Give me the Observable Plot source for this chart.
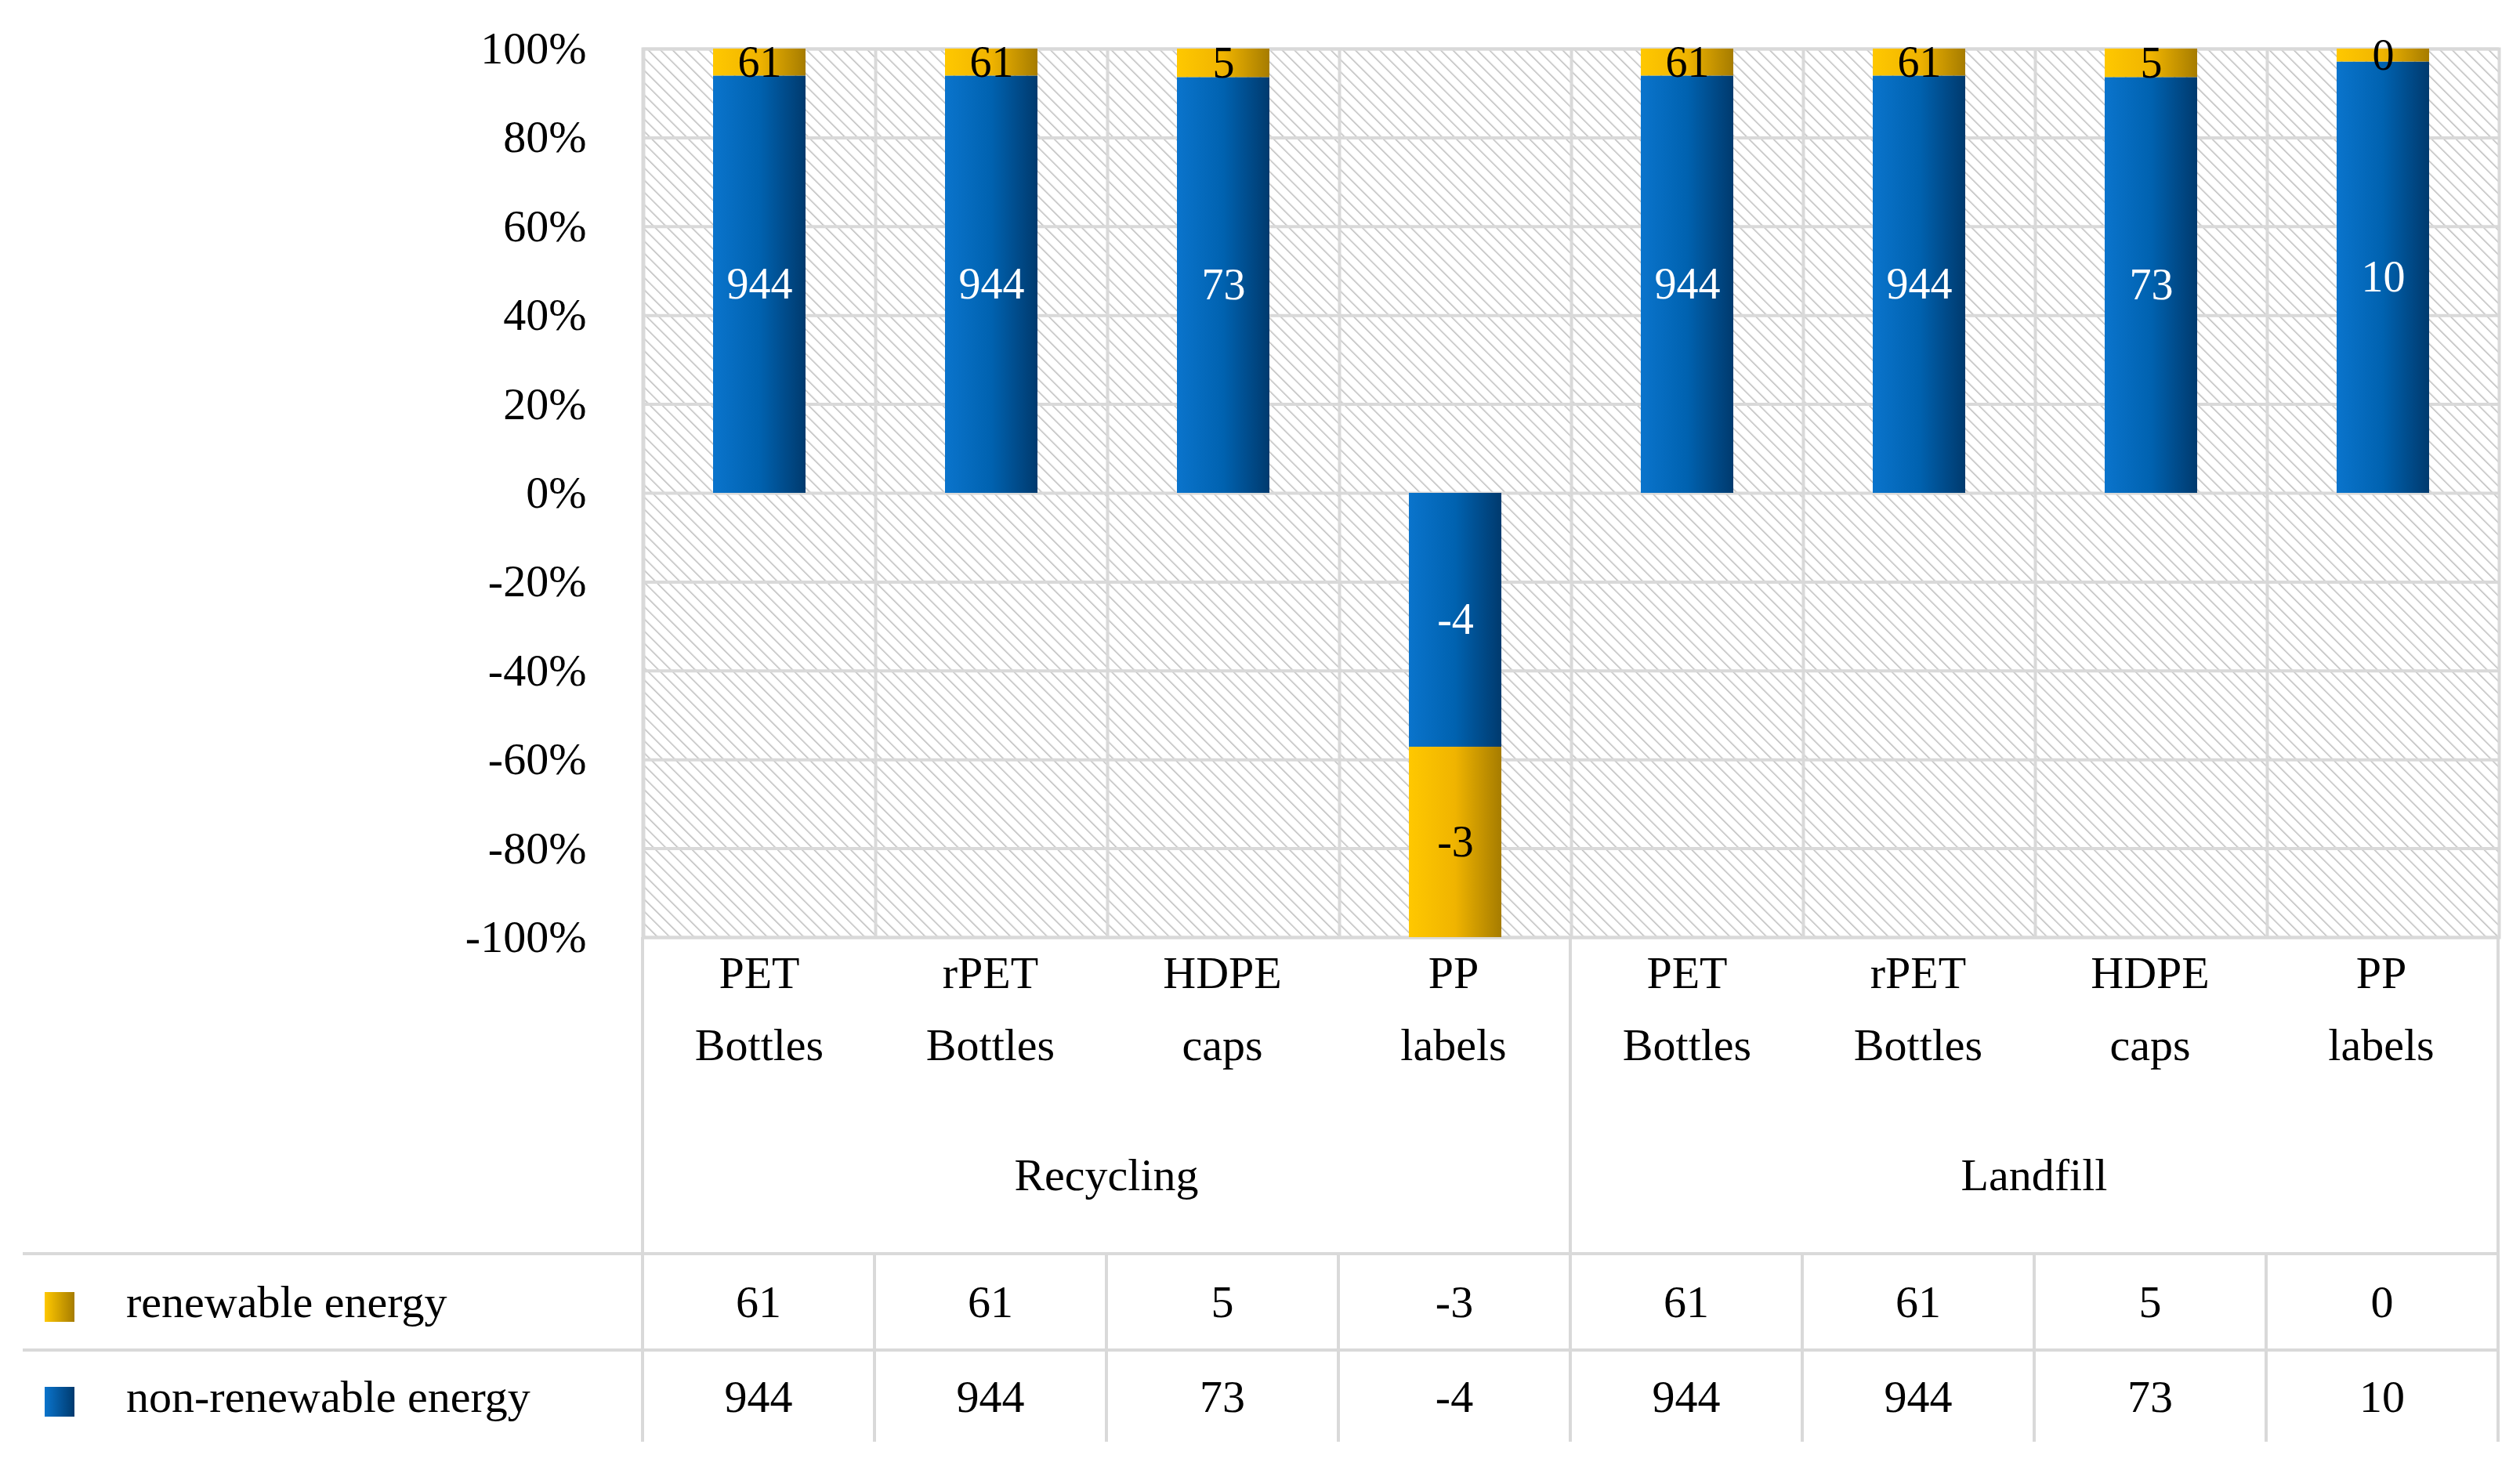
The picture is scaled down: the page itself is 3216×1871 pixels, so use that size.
<!DOCTYPE html>
<html><head><meta charset="utf-8">
<script src="https://cdn.jsdelivr.net/npm/d3@7"></script>
<script src="https://cdn.jsdelivr.net/npm/@observablehq/plot@0.6"></script>
<style>
body{margin:0;background:#fff;font-family:"Liberation Serif","DejaVu Serif",serif;}
#wrap{position:relative;width:3216px;height:1871px;}
#tbl{position:absolute;left:29px;top:1196px;border-collapse:collapse;font-size:58px;}
#tbl td{padding:0;text-align:center;vertical-align:middle;}
.b{border-left:4px solid #d9d9d9;}
.sw{display:inline-block;width:38px;height:38px;margin-left:28px;margin-right:66px;vertical-align:middle;}
</style></head><body>
<div id="wrap"></div>
<script>
const groups = ["Recycling","Landfill"];
const materials = ["PET\nBottles","rPET\nBottles","HDPE\ncaps","PP\nlabels"];
const renewable = [61,61,5,-3,61,61,5,0.3];
const nonRenewable = [944,944,73,-4,944,944,73,10];
const renewableLabels = ["61","61","5","-3","61","61","5","0"];
const nonRenewableLabels = ["944","944","73","-4","944","944","73","10"];
const yTicks = [-1,-0.8,-0.6,-0.4,-0.2,0,0.2,0.4,0.6,0.8,1];

const keys = [];
groups.forEach(g=>materials.forEach(m=>keys.push(g+"|"+m)));
const bars = [];
keys.forEach((k,i)=>{
  const tot = Math.abs(renewable[i])+Math.abs(nonRenewable[i]);
  const nb = nonRenewable[i]/tot, rb = renewable[i]/tot;
  bars.push({k, s:"non", y1:0, y2:nb, label:nonRenewableLabels[i]});
  bars.push({k, s:"ren", y1:nb, y2:nb+rb, label:renewableLabels[i]});
});
const col = 296;
const chart = Plot.plot({
  width:3216, height:1240, marginLeft:820, marginRight:27, marginTop:62, marginBottom:44,
  style:{fontFamily:"Liberation Serif, serif", fontSize:"58px", color:"#000", background:"transparent"},
  x:{domain:keys, padding:0, axis:null},
  y:{domain:[-1,1], ticks:yTicks, tickFormat:d=>Math.round(d*100)+"%", tickSize:0, tickPadding:72, label:null},
  marks:[
    Plot.frame({fill:"url(#hatch)", stroke:"#d9d9d9", strokeWidth:4}),
    Plot.gridY(yTicks,{stroke:"#d9d9d9", strokeOpacity:1, strokeWidth:4}),
    Plot.tickX(keys,{x:d=>d, y1:-1, y2:1, dx:-col/2, stroke:"#d9d9d9", strokeWidth:4}),
    Plot.barY(bars.filter(d=>d.s==="non"),{x:"k", y1:"y1", y2:"y2", fill:"url(#gB)", insetLeft:89, insetRight:89}),
    Plot.barY(bars.filter(d=>d.s==="ren"),{x:"k", y1:"y1", y2:"y2", fill:"url(#gY)", insetLeft:89, insetRight:89}),
    Plot.text(bars.filter(d=>d.s==="non"),{x:"k", y:d=>(d.y1+d.y2)/2, text:"label", fill:"white", fontSize:56}),
    Plot.text(bars.filter(d=>d.s==="ren"),{x:"k", y:d=>(d.y1+d.y2)/2, text:"label", fill:"black", fontSize:56}),
  ]
});
const ns="http://www.w3.org/2000/svg";
const defs=document.createElementNS(ns,"defs");
defs.innerHTML=`
<linearGradient id="gB" x1="0" x2="1" y1="0" y2="0"><stop offset="0" stop-color="#0a74cc"/><stop offset="0.5" stop-color="#0062b0"/><stop offset="1" stop-color="#003a6e"/></linearGradient>
<linearGradient id="gY" x1="0" x2="1" y1="0" y2="0"><stop offset="0" stop-color="#ffc800"/><stop offset="0.5" stop-color="#f0b400"/><stop offset="1" stop-color="#a67c00"/></linearGradient>
<pattern id="hatch" patternUnits="userSpaceOnUse" width="11" height="11" patternTransform="rotate(-45)"><rect width="11" height="11" fill="#fff"/><line x1="0" y1="0" x2="0" y2="11" stroke="#bdbdbd" stroke-width="3"/></pattern>`;
chart.insertBefore(defs, chart.firstChild);
document.getElementById("wrap").appendChild(chart);

const t=document.createElement("table"); t.id="tbl";
const lw=791;
let h=`<colgroup><col style="width:${lw}px">${keys.map(()=>`<col style="width:${col}px">`).join("")}</colgroup>`;
h+=`<tr style="height:240px"><td></td>${materials.concat(materials).map((m,i)=>`<td class="${i%4===0?'b':''}" style="vertical-align:top;padding-top:0px;line-height:92px;${i===7?'border-right:4px solid #d9d9d9':''}">${m.replace("\n","<br>")}</td>`).join("")}</tr>`;
h+=`<tr style="height:164px"><td></td>${groups.map((g,i)=>`<td colspan="4" class="b" style="vertical-align:top;padding-top:30px;${i===1?'border-right:4px solid #d9d9d9':''}">${g}</td>`).join("")}</tr>`;
const row=(name,vals,grad,bt)=>`<tr style="height:${bt}px;border-top:4px solid #d9d9d9"><td style="text-align:left"><span class="sw" style="background:${grad}"></span>${name}</td>${vals.map((v,i)=>`<td class="b" style="${i===7?'border-right:4px solid #d9d9d9':''}">${v}</td>`).join("")}</tr>`;
h+=row("renewable energy",renewableLabels,"linear-gradient(90deg,#ffc800,#a67c00)",123);
h+=row("non-renewable energy",nonRenewableLabels,"linear-gradient(90deg,#0a74cc,#003a6e)",117);
t.innerHTML=h;
document.getElementById("wrap").appendChild(t);
</script></body></html>
